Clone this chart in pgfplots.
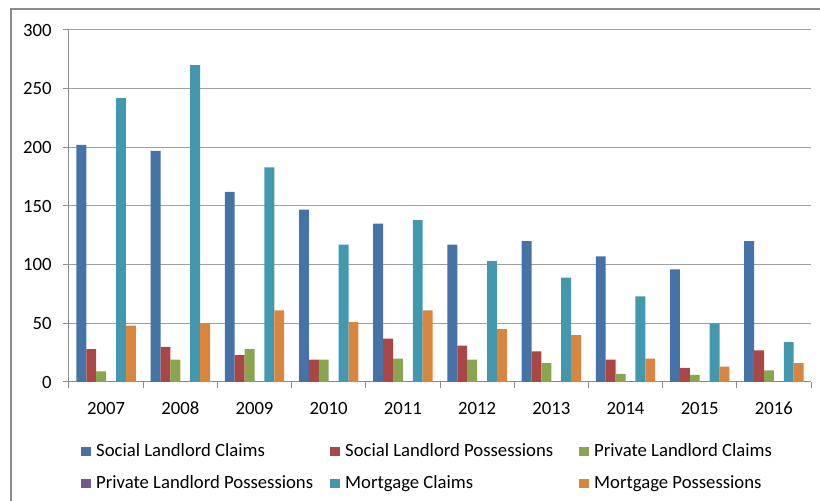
\documentclass[border=0pt]{standalone}
\usepackage{fontspec}
\setmainfont{Carlito}
\usepackage{pgfplots}
\usepackage{pgfplotstable}
\pgfplotsset{compat=1.18}
\definecolor{cSLC}{HTML}{4572A7}
\definecolor{cSLP}{HTML}{AA4643}
\definecolor{cPLC}{HTML}{89A54E}
\definecolor{cPLP}{HTML}{71588F}
\definecolor{cMC}{HTML}{4198AF}
\definecolor{cMP}{HTML}{DB843D}
\definecolor{gridc}{HTML}{A0A0A0}
\definecolor{axc}{HTML}{8C8C8C}
\pgfplotstableread{
x SLC SLP PLC PLP MC MP
0 202 28 9 0 242 48
1 197 30 19 0 270 50
2 162 23 28 0 183 61
3 147 19 19 0 117 51
4 135 37 20 0 138 61
5 117 31 19 0 103 45
6 120 26 16 0 89 40
7 107 19 7 0 73 20
8 96 12 6 0 50 13
9 120 27 10 0 34 16
}\datatable
\begin{document}
\fontsize{18.7}{22}\selectfont
\begin{tikzpicture}
\path[use as bounding box] (0,0) rectangle (820pt,501pt);
\draw[axc, line width=1.3pt] (11pt,0pt) -- (11pt,492pt) -- (820pt,492pt);
\begin{axis}[
  at={(69pt,119pt)}, anchor=south west,
  scale only axis, width=742pt, height=352pt,
  xmin=-0.5, xmax=9.5, ymin=0, ymax=300,
  ybar=0pt, bar width=9.9pt,
  axis x line*=bottom, axis y line*=left,
  axis line style={-, draw=axc, line width=1pt},
  ytick={0,50,...,300},
  xtick={0,...,9},
  xticklabels={2007,2008,2009,2010,2011,2012,2013,2014,2015,2016},
  major x tick style={draw=none},
  minor xtick={-0.5,0.5,...,9.5},
  minor tick length=6pt, major tick length=6pt,
  tick align=outside,
  tick style={draw=axc, line width=1pt},
  ymajorgrids, grid style={draw=gridc, line width=1pt},
  /pgf/number format/assume math mode=true,
  ticklabel style={font=\fontsize{18.7}{22}\selectfont},
  xticklabel style={text height=12pt, text depth=0pt, yshift=-8pt},
  yticklabel style={xshift=-5pt},
  every axis plot post/.append style={legend image code/.code={\path[##1,draw=none] (0pt,0pt) rectangle (10pt,9.5pt);}},
  legend columns=3,
  legend style={draw=none, fill=none, at={(axis description cs:0,0)}, anchor=north west,
    xshift=9pt, yshift=-59pt,
    nodes={inner sep=0pt, text height=13pt, text depth=4pt, anchor=base west},
    column sep=0pt, row sep=15pt, font=\fontsize{18.7}{22}\selectfont},
  /tikz/every odd column/.append style={column sep=5pt},
]
\addplot[fill=cSLC, draw=none] table[x=x,y=SLC]{\datatable};
\addlegendentry{\makebox[234pt][l]{Social Landlord Claims}}
\addplot[fill=cSLP, draw=none] table[x=x,y=SLP]{\datatable};
\addlegendentry{\makebox[234pt][l]{Social Landlord Possessions}}
\addplot[fill=cPLC, draw=none] table[x=x,y=PLC]{\datatable};
\addlegendentry{\makebox[234pt][l]{Private Landlord Claims}}
\addplot[fill=cPLP, draw=none] table[x=x,y=PLP]{\datatable};
\addlegendentry{\makebox[234pt][l]{Private Landlord Possessions}}
\addplot[fill=cMC, draw=none] table[x=x,y=MC]{\datatable};
\addlegendentry{\makebox[234pt][l]{Mortgage Claims}}
\addplot[fill=cMP, draw=none] table[x=x,y=MP]{\datatable};
\addlegendentry{\makebox[234pt][l]{Mortgage Possessions}}
\end{axis}
\end{tikzpicture}
\end{document}
